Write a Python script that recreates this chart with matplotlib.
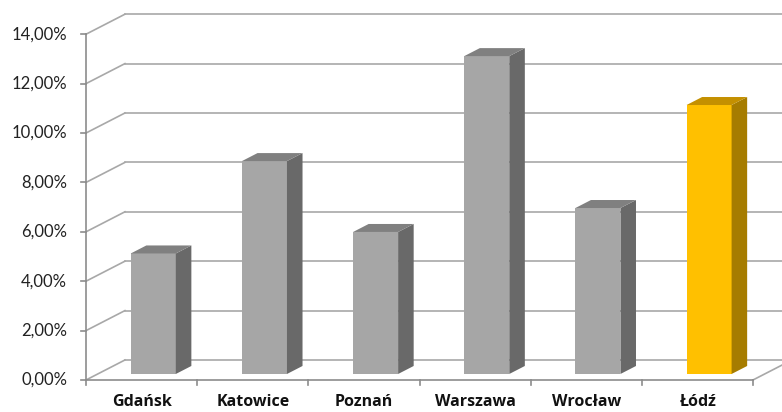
import numpy as np
import matplotlib
matplotlib.use("Agg")
import matplotlib.pyplot as plt
from matplotlib.patches import Polygon

# data
cities = ["Gdańsk", "Katowice", "Poznań", "Warszawa", "Wrocław", "Łódź"]
values = [4.88, 8.62, 5.75, 12.87, 6.72, 10.89]   # percent
highlight = "Łódź"
y_ticks = [0, 2, 4, 6, 8, 10, 12, 14]

# pseudo-3D geometry (in data units)
DX, DY = 0.35, 0.81          # full depth offset of the back wall
BAR_D0, BAR_D1 = 0.30, 0.70  # bar depth range (fraction of full depth)
BAR_W = 0.405

grid_c = "#a8a8a8"
axis_c = "#8c8c8c"
gray = ("#a6a6a6", "#696969", "#808080")      # front, side, top
gold = ("#ffc000", "#a67c00", "#c49000")


def proj(x, y, d):
    return x + d * DX, y + d * DY


plt.rcParams["font.family"] = ["Lato", "DejaVu Sans"]
fig = plt.figure(figsize=(7.82, 4.12), dpi=100)
ax = fig.add_axes([0, 0, 1, 1])
ax.set_xlim(-0.774, 6.261)
ax.set_ylim(-1.296, 15.385)
ax.axis("off")

n = len(cities)

# back wall gridlines + left wall diagonals
for v in y_ticks:
    x0, y0 = proj(0, v, 1)
    x1, y1 = proj(n, v, 1)
    ax.plot([x0, x1], [y0, y1], color=grid_c, lw=1.2, zorder=1)
    ax.plot([0, x0], [v, y0], color=grid_c, lw=1.2, zorder=1)

# floor edges
fx, fy = proj(n, 0, 1)
ax.plot([n, fx], [0, fy], color=grid_c, lw=1.2, zorder=1)
ax.plot([0, n], [0, 0], color=axis_c, lw=1.2, zorder=2)

# front value axis
ax.plot([0, 0], [0, 14], color=axis_c, lw=1.2, zorder=2)
for v in y_ticks:
    ax.plot([-0.045, 0], [v, v], color=axis_c, lw=1.2, zorder=2)
    ax.text(-0.17, v, f"{v:.2f}%".replace(".", ","), ha="right", va="center",
            fontsize=12, color="#222222")

# category ticks
for i in range(n + 1):
    ax.plot([i, i], [0, -0.22], color=axis_c, lw=1.2, zorder=2)

# bars
for i, (city, val) in enumerate(zip(cities, values)):
    front, side, top = gold if city == highlight else gray
    xl = i + 0.5 - BAR_W / 2
    xr = xl + BAR_W
    # front face
    p = [proj(xl, 0, BAR_D0), proj(xr, 0, BAR_D0), proj(xr, val, BAR_D0), proj(xl, val, BAR_D0)]
    ax.add_patch(Polygon(p, closed=True, fc=front, ec="none", zorder=5))
    # side face
    p = [proj(xr, 0, BAR_D0), proj(xr, 0, BAR_D1), proj(xr, val, BAR_D1), proj(xr, val, BAR_D0)]
    ax.add_patch(Polygon(p, closed=True, fc=side, ec="none", zorder=5))
    # top face
    p = [proj(xl, val, BAR_D0), proj(xr, val, BAR_D0), proj(xr, val, BAR_D1), proj(xl, val, BAR_D1)]
    ax.add_patch(Polygon(p, closed=True, fc=top, ec="none", zorder=5))
    ax.text(i + 0.5, -1.23, city, ha="center", va="bottom", fontsize=11.5,
            fontweight="bold", color="#111111", family=["Open Sans", "DejaVu Sans"])

fig.savefig("out.png", dpi=100)
